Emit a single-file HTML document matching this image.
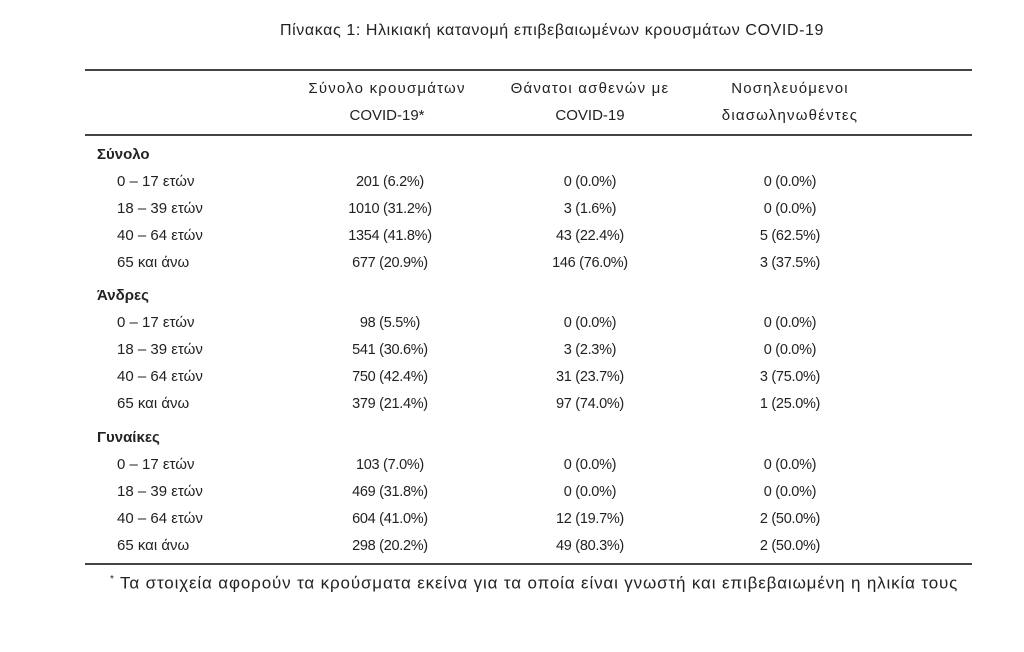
<!DOCTYPE html>
<html><head><meta charset="utf-8"><style>
body{margin:0;width:1024px;height:652px;background:#fff;position:relative;font-family:"Liberation Sans","DejaVu Sans",sans-serif;color:#222;font-size:15px;overflow:hidden}
.t{position:absolute;white-space:nowrap;line-height:18px}
.c{transform:translateX(-50%)}
.hr{position:absolute;left:85px;width:887px;background:#444}
.n{font-size:14.5px;letter-spacing:-0.3px}
.g{letter-spacing:1.2px}
b{font-weight:bold}
</style></head><body>
<div class="t c" style="left:552px;top:22px;font-size:16px;letter-spacing:0.6px">Πίνακας 1: Ηλικιακή κατανομή επιβεβαιωμένων κρουσμάτων COVID-19</div>
<div class="hr" style="top:69px;height:2px"></div>
<div class="t c g" style="left:387px;top:80px">Σύνολο κρουσμάτων</div>
<div class="t c" style="left:387px;top:107px">COVID-19*</div>
<div class="t c g" style="left:590px;top:80px">Θάνατοι ασθενών με</div>
<div class="t c" style="left:590px;top:107px">COVID-19</div>
<div class="t c g" style="left:790px;top:80px">Νοσηλευόμενοι</div>
<div class="t c g" style="left:790px;top:107px">διασωληνωθέντες</div>
<div class="hr" style="top:134px;height:2px"></div>
<div id="rows"></div>
<div class="hr" style="top:563px;height:2px"></div>
<div class="t" style="left:110px;top:571px;font-size:17px;letter-spacing:0.85px"><sup style="font-size:10px">*</sup> Τα στοιχεία αφορούν τα κρούσματα εκείνα για τα οποία είναι γνωστή και επιβεβαιωμένη η ηλικία τους</div>
<script>
var d=[["Σύνολο",146,[["201 (6.2%)","0 (0.0%)","0 (0.0%)"],["1010 (31.2%)","3 (1.6%)","0 (0.0%)"],["1354 (41.8%)","43 (22.4%)","5 (62.5%)"],["677 (20.9%)","146 (76.0%)","3 (37.5%)"]]],
["Άνδρες",287,[["98 (5.5%)","0 (0.0%)","0 (0.0%)"],["541 (30.6%)","3 (2.3%)","0 (0.0%)"],["750 (42.4%)","31 (23.7%)","3 (75.0%)"],["379 (21.4%)","97 (74.0%)","1 (25.0%)"]]],
["Γυναίκες",429,[["103 (7.0%)","0 (0.0%)","0 (0.0%)"],["469 (31.8%)","0 (0.0%)","0 (0.0%)"],["604 (41.0%)","12 (19.7%)","2 (50.0%)"],["298 (20.2%)","49 (80.3%)","2 (50.0%)"]]]];
var L=["0 – 17 ετών","18 – 39 ετών","40 – 64 ετών","65 και άνω"],X=[390,590,790],h="";
d.forEach(function(s){h+='<div class="t" style="left:97px;top:'+s[1]+'px"><b>'+s[0]+'</b></div>';
s[2].forEach(function(r,i){var y=s[1]+27*(i+1);h+='<div class="t" style="left:117px;top:'+y+'px">'+L[i]+'</div>';
r.forEach(function(v,j){h+='<div class="t c n" style="left:'+X[j]+'px;top:'+y+'px">'+v+'</div>';});});});
document.getElementById("rows").innerHTML=h;
</script>
</body></html>
